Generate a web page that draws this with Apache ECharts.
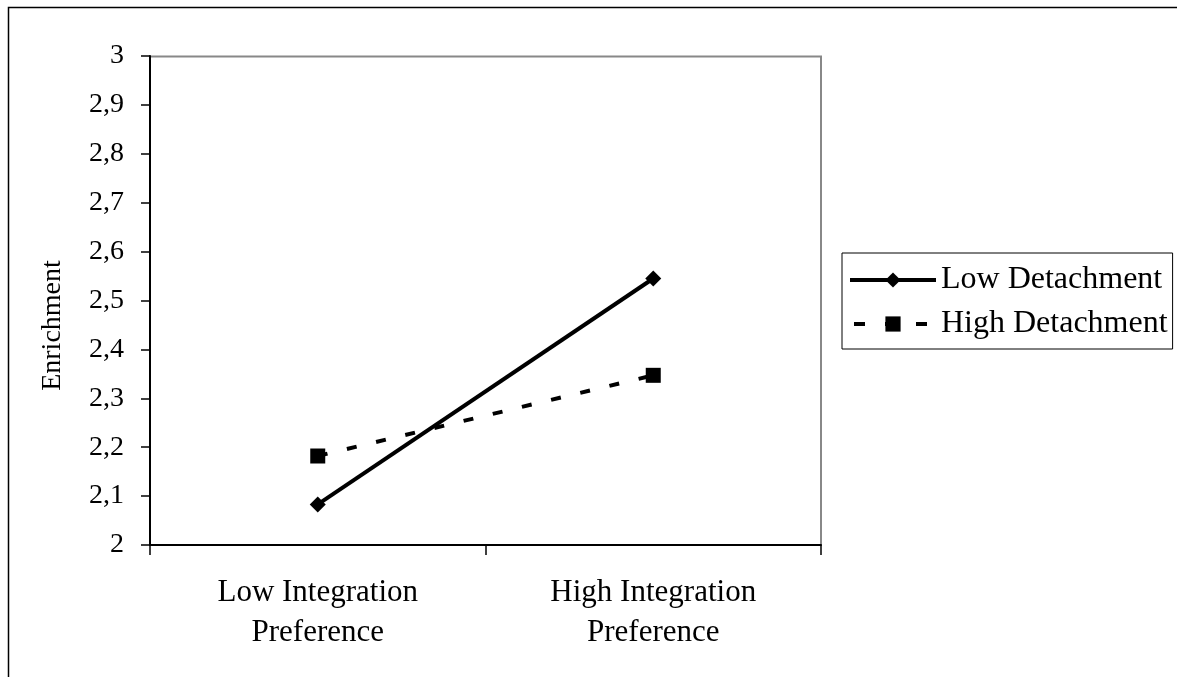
<!DOCTYPE html>
<html>
<head>
<meta charset="utf-8">
<script src="https://cdn.jsdelivr.net/npm/echarts@6/dist/echarts.min.js"></script>
<style>
html,body{margin:0;padding:0;background:#fff;}
#chart{width:1177px;height:677px;}
</style>
</head>
<body>
<div id="chart"></div>
<script>
var categories = ['Low Integration\nPreference', 'High Integration\nPreference'];
var lowDetachment = [2.083, 2.545];
var highDetachment = [2.182, 2.347];
var yTicks = { min: 2, max: 3, interval: 0.1 };
var axisName = 'Enrichment';

var font = 'Liberation Serif, Times New Roman, serif';
var chart = echarts.init(document.getElementById('chart'), null, { renderer: 'canvas' });
chart.setOption({
  animation: false,
  backgroundColor: '#fff',
  textStyle: { fontFamily: font, color: '#000' },
  graphic: [{
    type: 'rect',
    shape: { x: 8.5, y: 7.5, width: 1200, height: 700 },
    style: { fill: 'none', stroke: '#000', lineWidth: 1.5 },
    z: -1
  }, {
    type: 'polyline',
    shape: { points: [[150, 56.5], [821, 56.5], [821, 545]] },
    style: { fill: 'none', stroke: '#888', lineWidth: 2 },
    z: 0
  }],
  grid: { left: 150, right: 1177 - 821, top: 56, bottom: 677 - 545, containLabel: false },
  legend: {
    orient: 'vertical',
    left: 842, top: 253,
    padding: [11, 5, 9, 6],
    itemGap: 12,
    itemWidth: 86,
    itemHeight: 19,
    borderColor: '#000',
    borderWidth: 1,
    lineStyle: { width: 4 },
    textStyle: { fontFamily: font, fontSize: 32, color: '#000' },
    data: [
      { name: 'Low Detachment' },
      { name: 'High Detachment', lineStyle: { width: 4, type: [11, 20], dashOffset: -4 } }
    ]
  },
  xAxis: {
    type: 'category',
    data: categories,
    boundaryGap: true,
    axisLine: { show: true, lineStyle: { color: '#000', width: 2 } },
    axisTick: { show: true, length: 10, alignWithLabel: false, lineStyle: { color: '#000', width: 1.5 } },
    axisLabel: { fontFamily: font, fontSize: 31, color: '#000', margin: 28, lineHeight: 40 },
    splitLine: { show: false }
  },
  yAxis: {
    type: 'value',
    min: yTicks.min, max: yTicks.max, interval: yTicks.interval,
    name: axisName,
    nameLocation: 'middle',
    nameGap: 83,
    nameTextStyle: { fontFamily: font, fontSize: 28, color: '#000', padding: [0, 50, 0, 0] },
    axisLine: { show: true, lineStyle: { color: '#000', width: 2 } },
    axisTick: { show: true, length: 9, lineStyle: { color: '#000', width: 1.5 } },
    axisLabel: {
      fontFamily: font, fontSize: 28, color: '#000', margin: 26,
      formatter: function (v) { return (Math.round(v * 10) / 10).toString().replace('.', ','); }
    },
    splitLine: { show: false }
  },
  series: [{
    name: 'Low Detachment',
    type: 'line',
    data: lowDetachment,
    symbol: 'diamond',
    symbolSize: 16,
    itemStyle: { color: '#000' },
    lineStyle: { color: '#000', width: 4 },
    z: 3
  }, {
    name: 'High Detachment',
    type: 'line',
    data: highDetachment,
    symbol: 'rect',
    symbolSize: 15,
    itemStyle: { color: '#000' },
    lineStyle: { color: '#000', width: 4, type: [10, 20] },
    z: 2
  }]
});
</script>
</body>
</html>
